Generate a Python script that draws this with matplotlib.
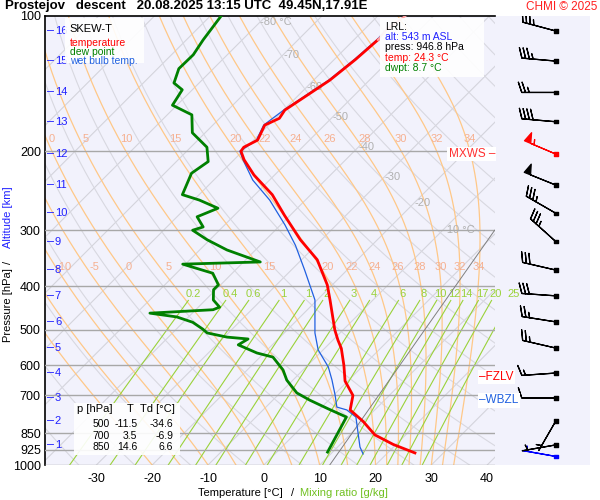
import numpy as np
import matplotlib
matplotlib.use("Agg")
import matplotlib.pyplot as plt
import matplotlib.transforms as mtransforms

plt.rcParams['font.family'] = ['Liberation Sans', 'DejaVu Sans']
plt.rcParams['font.size'] = 8

SKEW = 80.4  # degC shift per pressure decade

# temperature profile
t_p = [940, 900, 857, 800, 754, 700, 650, 600, 550, 527, 500, 429, 397, 349, 315, 278, 250,
       226, 209, 200, 196, 189, 175, 169, 162, 154, 139, 125, 113]
t_t = [24.9, 19.5, 14.5, 10.0, 5.6, 3.5, -0.5, -3.5, -7.0, -9.1, -11.5, -17.7, -20.9, -27.2,
       -33.8, -41.0, -46.9, -53.7, -58.2, -60.3, -60.5, -59.3, -60.7, -59.3, -59.8, -58.9,
       -57.1, -56.2, -55.7]
top_p = [113, 107, 103, 99.5]
top_t = [-55.7, -56.0, -55.5, -55.0]

# dew point profile
td_p = [936, 782, 750, 717, 691, 647, 614, 575, 563, 540, 524, 519, 508, 498, 481, 468, 459,
        451, 445, 429, 407, 397, 374, 357, 353, 332, 315, 300, 295, 280, 268, 257, 250, 224,
        211, 196, 182, 166, 158, 146, 141, 131, 122, 113, 99.5]
td_t = [9.1, 6.2, 1.5, -3.4, -7.0, -11.1, -13.6, -17.7, -21.3, -26.1, -25.4, -29.5, -33.8,
        -35.3, -38.3, -42.1, -47.6, -36.9, -36.2, -38.6, -40.4, -40.4, -43.5, -50.5, -37.0,
        -45.1, -50.5, -54.8, -53.5, -56.4, -54.2, -59.0, -63.0, -65.2, -64.3, -67.1, -72.3,
        -75.6, -80.8, -81.8, -84.5, -86.2, -86.1, -87.0, -88.1]

# wet bulb profile
tw_p = [945, 912, 782, 754, 743, 698, 647, 605, 554, 508, 429, 368, 324, 292, 257, 232, 209,
        200, 189, 175, 162, 154, 139, 125, 113, 107]
tw_t = [15.8, 14.0, 7.9, 5.0, 2.7, 0.2, -3.0, -6.0, -10.9, -14.5, -20.4, -27.6, -33.7, -39.2,
        -46.4, -53.0, -58.4, -60.5, -59.5, -60.9, -60.0, -59.1, -57.3, -56.4, -55.9, -56.0]

# altitude (km) -> pressure
alt_km = list(range(1, 17))
alt_p = [902, 798, 709, 624, 549, 480, 420, 368, 318, 275, 238, 203, 172, 148, 126, 108]

# winds: pressure, direction, speed (kt)
wind_p = [957] + alt_p
wind_dir = [280, 260, 210, 270, 266, 283, 279, 274, 283, 312, 300, 292, 293, 275, 270, 275, 285]
wind_spd = [5, 5, 5, 10, 15, 25, 25, 30, 30, 35, 35, 50, 55, 40, 25, 35, 35]

p_levels = [200, 300, 400, 500, 600, 700, 850, 925, 1000]
p_ticks = [100, 200, 300, 400, 500, 600, 700, 850, 925, 1000]
t_ticks = [-30, -20, -10, 0, 10, 20, 30, 40]
mix_ratios = [0.2, 0.4, 0.6, 1, 1.5, 2, 3, 4, 6, 8, 10, 12, 14, 17, 20, 25]
theta_w = [-10, -5, 0, 5, 10, 15, 20, 22, 24, 26, 28, 30, 32, 34]
iso_labels = [-80, -70, -60, -50, -40, -30, -20, -10]
iso_label_p = [103, 122, 144, 168, 196, 228, 261, 300]


def sx(t, p):
    return np.asarray(t) + SKEW * np.log10(1000.0 / np.asarray(p, dtype=float))


def esat(t):
    return 6.112 * np.exp(17.67 * t / (t + 243.5))


def moist(tw, pp):
    # integrate pseudo-adiabat from 1000 hPa upward
    Rd, cp, L, eps = 287.0, 1005.0, 2.5e6, 0.622
    out = [tw]
    T = tw + 273.15
    for i in range(1, len(pp)):
        p0, p1 = pp[i - 1], pp[i]
        n = 4
        for k in range(n):
            pa = p0 + (p1 - p0) * k / n
            es = esat(T - 273.15)
            rs = eps * es / (pa - es)
            dTdp = (Rd * T + L * rs) / (cp + L * L * rs * eps / (Rd * T * T)) / pa
            T += dTdp * (p1 - p0) / n
        out.append(T - 273.15)
    return np.array(out)


fig = plt.figure(figsize=(6, 5), dpi=100)

# wind column (drawn first, underneath)
wax = fig.add_axes([495 / 600, 35 / 500, 95 / 600, 449 / 500], zorder=1)
wax.set_yscale('log')
wax.set_ylim(1000, 100)
wax.set_xlim(0, 1)
wax.axis('off')
wax.add_patch(plt.Rectangle((0, 0), 1, 1, transform=wax.transAxes, fc='#f2f2fc', ec='none', zorder=0))
d = np.radians(wind_dir)
u = -np.array(wind_spd) * np.sin(d)
v = -np.array(wind_spd) * np.cos(d)
cols = ['#0000ff' if i == 0 else ('#ff0000' if s == 55 else 'black') for i, s in enumerate(wind_spd)]
wax.barbs(np.full(len(wind_p), 0.64), wind_p, u, v, color=cols, length=7, linewidth=0.9,
          sizes=dict(emptybarb=0, spacing=0.11, height=0.3, width=0.2), zorder=3)
wax.scatter(np.full(len(wind_p), 0.64), wind_p, s=6, marker='s', c=cols, zorder=4)

ax = fig.add_axes([45 / 600, 35 / 500, 450 / 600, 449 / 500], zorder=2)
ax.set_facecolor('#f2f2fc')
ax.set_yscale('log')
ax.set_ylim(1000, 100)
ax.set_xlim(-39.2, 41.4)

pp = np.logspace(3, 2, 200)
# isotherms
for t in range(-160, 50, 10):
    ax.plot(sx(np.full_like(pp, t), pp), pp, color='#d4d4dc', lw=0.8, zorder=1)
# dry adiabats
for th in range(240, 480, 10):
    tt = th * (pp / 1000.0) ** 0.286 - 273.15
    ax.plot(sx(tt, pp), pp, color='#d8d8e0', lw=0.8, zorder=1)
# moist adiabats
for tw in list(range(-20, 20, 5)) + list(range(20, 36, 2)):
    tt = moist(tw, pp)
    ax.plot(sx(tt, pp), pp, color='#ffc888', lw=0.9, zorder=2)
    if tw in theta_w:
        for pl in (200, 385):
            if pl == 200 and tw < 0:
                continue
            ti = np.interp(np.log(pl), np.log(pp[::-1]), tt[::-1])
            xx = sx(ti, pl)
            if -39 < xx < 41:
                ax.text(xx, pl * 0.965, str(tw), color='#f6b090', fontsize=8, ha='center',
                        va='bottom', zorder=3)
# mixing ratio lines
pm = np.logspace(3, np.log10(430), 50)
for w in mix_ratios:
    e = w * pm / (622.0 + w)
    le = np.log(e / 6.112)
    td = 243.5 * le / (17.67 - le)
    ax.plot(sx(td, pm), pm, color='#9ad23a', lw=0.8, zorder=2)
    e2 = w * 416 / (622.0 + w)
    le2 = np.log(e2 / 6.112)
    ax.text(sx(243.5 * le2 / (17.67 - le2), 416), 416, ('%g' % w) if w != 1.5 else '1',
            color='#9ad23a', fontsize=8, ha='center', va='center', zorder=3, clip_on=False)
# isotherm labels
for t, pl in zip(iso_labels, iso_label_p):
    lab = '%d °C' % t if t in (-80, -10) else str(t)
    ax.text(sx(t, pl), pl, lab, color='#b0b0b0', fontsize=8, ha='left', va='center', zorder=3)
# isobars
for p in p_levels:
    ax.axhline(p, color='#a8a8a8', lw=1, zorder=3)
# straight guide line
ax.plot(sx([11.8, -0.7], [1000, 300]), [1000, 300], color='#808080', lw=0.7, zorder=3)

# profiles
ax.plot(sx(tw_t, tw_p), tw_p, color='#2060e0', lw=0.9, zorder=5)
ax.plot(sx(td_t, td_p), td_p, color='#008000', lw=2, zorder=6)
ax.plot(sx(t_t, t_p), t_p, color='#ff0000', lw=2, zorder=7)
ax.plot(sx(top_t, top_p), top_p, color='#ffa0a0', lw=1.5, zorder=7)

ax.set_yticks(p_ticks)
ax.set_yticklabels([str(p) for p in p_ticks], fontsize=9)
ax.yaxis.set_minor_locator(matplotlib.ticker.NullLocator())
ax.set_xticks(t_ticks)
ax.set_xticklabels([str(t) for t in t_ticks], fontsize=9)
ax.tick_params(axis='x', length=0, pad=6)
ax.tick_params(axis='y', length=0, pad=3)
for s in ('right', 'bottom'):
    ax.spines[s].set_visible(False)
ax.spines['left'].set_linewidth(1.2)
ax.spines['top'].set_linewidth(1.2)

# altitude ticks
bt = mtransforms.blended_transform_factory(ax.transAxes, ax.transData)
for km, p in zip(alt_km, alt_p):
    ax.text(0.004, p, '\u2013', color='#2020ff', transform=bt, va='center', fontsize=9, zorder=8)
    ax.text(0.022, p, str(km), color='#2020ff', transform=bt, va='center', fontsize=8, zorder=8)

# markers on right
ax.text(1.0, 203, 'MXWS \u2013', color='#ff3030', transform=bt, va='center', ha='right',
        fontsize=8.5, zorder=9, clip_on=False, bbox=dict(fc='white', ec='none', pad=1))
ax.text(0.965, 637, '\u2013FZLV', color='#ff0000', transform=bt, va='center', ha='left',
        fontsize=8.5, zorder=9, clip_on=False, bbox=dict(fc='white', ec='none', pad=1))
ax.text(0.965, 717, '\u2013WBZL', color='#2060e0', transform=bt, va='center', ha='left',
        fontsize=8.5, zorder=9, clip_on=False, bbox=dict(fc='white', ec='none', pad=1))

# legend box
ax.add_patch(plt.Rectangle((0.045, 0.895), 0.175, 0.1, transform=ax.transAxes, fc='white',
                           ec='none', zorder=8, alpha=0.9))
ax.text(0.055, 0.982, 'SKEW-T', transform=ax.transAxes, va='top', fontsize=8, zorder=9)
for i, (lab, c) in enumerate((('temperature', '#ff0000'), ('dew point', '#008000'),
                              ('wet bulb temp.', '#2060e0'))):
    ax.text(0.055, 0.952 - i * 0.021, lab, color=c, transform=ax.transAxes, va='top', fontsize=7.5,
            zorder=9)

# LRL box
ax.add_patch(plt.Rectangle((0.745, 0.865), 0.23, 0.13, transform=ax.transAxes, fc='white',
                           ec='none', zorder=8, alpha=0.9))
for i, (lab, c) in enumerate((('LRL:', 'black'), ('alt: 543 m ASL', '#2020ff'),
                              ('press: 946.8 hPa', 'black'), ('temp: 24.3 °C', '#ff0000'),
                              ('dwpt: 8.7 °C', '#008000'))):
    ax.text(0.755, 0.987 - i * 0.023, lab, color=c, transform=ax.transAxes, va='top', fontsize=7.5,
            zorder=9)

# table
rows = [('p [hPa]', 'T', 'Td [°C]'), ('500', '-11.5', '-34.6'), ('700', '3.5', '-6.9'),
        ('850', '14.6', '6.6')]
ax.add_patch(plt.Rectangle((0.065, 0.022), 0.235, 0.115, transform=ax.transAxes, fc='white',
                           ec='none', zorder=8, alpha=0.9))
for i, r in enumerate(rows):
    y = 0.125 - i * 0.026 - (0.008 if i else 0)
    fs = 8 if i == 0 else 7.5
    ax.text(0.11 if i == 0 else 0.125, y, r[0], transform=ax.transAxes, ha='center', va='center', fontsize=fs, zorder=9)
    ax.text(0.19 if i == 0 else 0.205, y, r[1], transform=ax.transAxes, ha='center' if i == 0 else 'right', va='center', fontsize=fs, zorder=9)
    ax.text(0.25 if i == 0 else 0.285, y, r[2], transform=ax.transAxes, ha='center' if i == 0 else 'right', va='center', fontsize=fs, zorder=9)

# titles and axis labels
fig.text(0.008, 1.0, 'Prostejov   descent   20.08.2025 13:15 UTC  49.45N,17.91E', ha='left',
         va='top', fontsize=9.5, fontweight='bold')
fig.text(0.995, 0.998, 'CHMI © 2025', ha='right', va='top', fontsize=8.5, color='#ff2020')
fig.text(0.013, 0.39, 'Pressure [hPa]', rotation=90, ha='center', va='center', fontsize=8)
fig.text(0.013, 0.475, '/', rotation=90, ha='center', va='center', fontsize=8)
fig.text(0.013, 0.565, 'Altitude [km]', rotation=90, ha='center', va='center', fontsize=8,
         color='#2020ff')
fig.text(0.40, 0.014, 'Temperature [°C]', ha='center', va='center', fontsize=8)
fig.text(0.487, 0.014, '/', ha='center', va='center', fontsize=8)
fig.text(0.573, 0.014, 'Mixing ratio [g/kg]', ha='center', va='center', fontsize=8,
         color='#70c020')

fig.savefig('out.png', dpi=100)
